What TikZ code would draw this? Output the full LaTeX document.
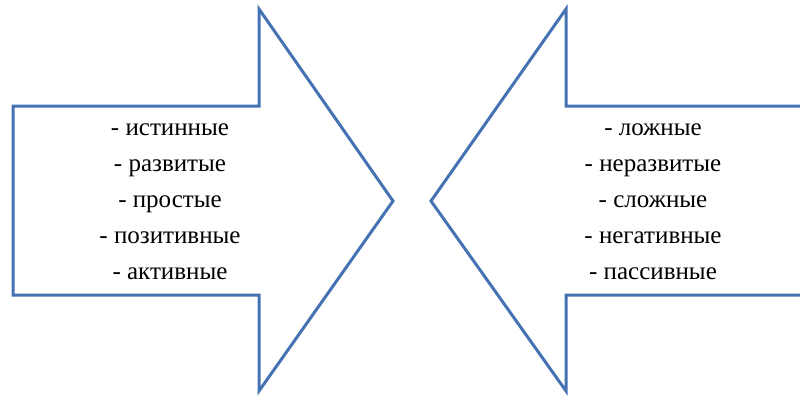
\documentclass[tikz,border=0pt]{standalone}
\usepackage{fontspec}
\setmainfont{Liberation Serif}
\usepackage{tikz}
\definecolor{ArrowBlue}{RGB}{68,114,178}

\begin{document}
\begin{tikzpicture}[x=1pt, y=-1pt, line width=3pt, every node/.style={align=center, font=\fontsize{25}{36}\selectfont, inner sep=0pt}]
    \useasboundingbox (0,0) rectangle (800,396);
    \clip (0,0) rectangle (800,396);
    % left arrow
    \draw[ArrowBlue, line join=miter] (13,106) -- (259,106) -- (259,9) -- (393,201) -- (259,391) -- (259,295) -- (13,295) -- cycle;
    % right arrow
    \draw[ArrowBlue, line join=miter] (805,106) -- (566,106) -- (566,9) -- (431,201) -- (566,391) -- (566,295) -- (805,295);

    \node (good) at (170,202) {- истинные\\- развитые\\- простые\\- позитивные\\- активные};
    \node (bad) at (653,202) {- ложные\\- неразвитые\\- сложные\\- негативные\\- пассивные};
\end{tikzpicture}
\end{document}
